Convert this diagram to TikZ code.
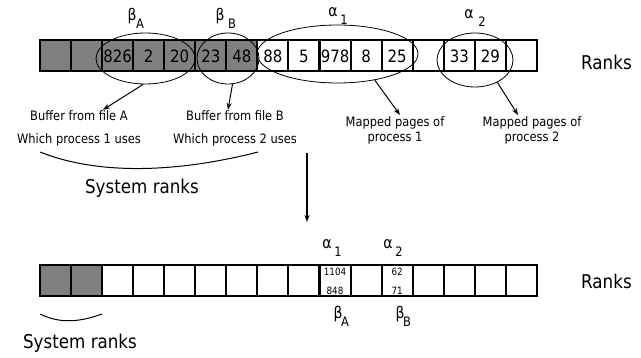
\documentclass[tikz,border=0pt]{standalone}
\usepackage{fontspec}
\setmainfont[FakeStretch=0.88]{DejaVu Sans}
\usetikzlibrary{shapes.geometric,arrows.meta}
\definecolor{sysgray}{HTML}{808080}
\tikzset{
  cell/.style={draw, line width=2pt, minimum size=31pt, inner sep=0pt, font=\fontsize{17}{17}\selectfont},
  syscell/.style={cell, fill=sysgray},
  group/.style={ellipse, draw, line width=0.8pt, inner sep=0pt},
  arr/.style={-{Stealth[length=7pt,width=5pt]}, line width=1pt},
  note/.style={font=\fontsize{13}{15}\selectfont, align=center, inner sep=1pt},
  big/.style={font=\fontsize{19}{19}\selectfont, inner sep=0pt},
  greek/.style={font=\fontsize{16}{16}\selectfont, inner sep=0pt},
  sub/.style={font=\fontsize{13}{13}\selectfont, inner sep=0pt},
  tiny/.style={font=\fontsize{10}{10}\selectfont, inner sep=0pt},
  brace/.style={line width=1pt}
}
\begin{document}
\begin{tikzpicture}[x=1pt,y=-1pt]
\useasboundingbox (0,0) rectangle (641,358);
% upper row of ranks
\foreach \i/\t in {0/,1/,2/826,3/2,4/20,5/23,6/48} {
  \node[syscell] (t\i) at ({55.5+31.06*\i},56) {\t};
}
\foreach \i/\t in {7/88,8/5,9/978,10/8,11/25,12/,13/33,14/29,15/} {
  \node[cell] (t\i) at ({55.5+31.06*\i},56) {\t};
}
\node[big, anchor=west] (rk1) at (581,62) {Ranks};
% groups in the upper row
\node[group, minimum width=99pt, minimum height=51pt] (eA) at (145.5,58.5) {};
\node[group, minimum width=62pt, minimum height=51pt] (eB) at (228,58.5) {};
\node[group, minimum width=161pt, minimum height=58pt] (e1) at (337.5,54) {};
\node[group, minimum width=76pt, minimum height=54pt] (e2) at (475,60) {};
% group labels
\node[greek] (lA) at (132,16) {β};
\node[sub] (lAs) at (140,24) {A};
\node[greek] (lB) at (220,16) {β};
\node[sub] (lBs) at (232,24) {B};
\node[greek] (l1) at (333,12) {α};
\node[sub] (l1s) at (344,20) {1};
\node[greek] (l2) at (469,14) {α};
\node[sub] (l2s) at (482,22) {2};
% notes below the upper row
\node[note] (bufA) at (79,116) {Buffer from file A};
\node[note] (useA) at (79,140) {Which process 1 uses};
\node[note] (bufB) at (235,116) {Buffer from file B};
\node[note] (useB) at (235,140) {Which process 2 uses};
\node[note] (map1) at (395,130) {Mapped pages of\\process 1};
\node[note] (map2) at (532,130) {Mapped pages of\\process 2};
\draw[arr] (eA.-95) -- ([xshift=24pt]bufA.north);
\draw[arr] (eB.-80) -- ([xshift=-7pt]bufB.north);
\draw[arr] (e1.-35) -- ([xshift=5pt]map1.north);
\draw[arr] (e2.-45) -- ([xshift=-14pt]map2.north);
% system ranks of the upper row
\coordinate (sL) at (40,152);
\coordinate (sR) at (258,152);
\draw[brace] (sL) .. controls (100,176) and (180,172) .. (sR);
\node[big] (sys1) at (142,188) {System ranks};
% transition
\coordinate (dTop) at (307,153);
\coordinate (dBot) at (307,222);
\draw[arr, line width=1.6pt] (dTop) -- (dBot);
% lower row of ranks
\foreach \i in {0,1} {
  \node[syscell] (b\i) at ({55.5+31.06*\i},281) {};
}
\foreach \i in {2,...,15} {
  \node[cell] (b\i) at ({55.5+31.06*\i},281) {};
}
\node[big, anchor=west] (rk2) at (581,281) {Ranks};
\node[tiny] (n1104) at ([yshift=9pt]b9.center) {1104};
\node[tiny] (n848) at ([yshift=-10pt]b9.center) {848};
\node[tiny] (n62) at ([yshift=9pt]b11.center) {62};
\node[tiny] (n71) at ([yshift=-10pt]b11.center) {71};
\node[greek] (m1) at (327,244) {α};
\node[sub] (m1s) at (338,252) {1};
\node[greek] (m2) at (388,244) {α};
\node[sub] (m2s) at (399,252) {2};
\node[greek] (mA) at (338,314) {β};
\node[sub] (mAs) at (345,322) {A};
\node[greek] (mB) at (400,314) {β};
\node[sub] (mBs) at (407,322) {B};
% system ranks of the lower row
\coordinate (tL) at (40,314);
\coordinate (tR) at (102,314);
\draw[brace] (tL) .. controls (60,324) and (80,322) .. (tR);
\node[big] (sys2) at (80,343) {System ranks};
\end{tikzpicture}
\end{document}
